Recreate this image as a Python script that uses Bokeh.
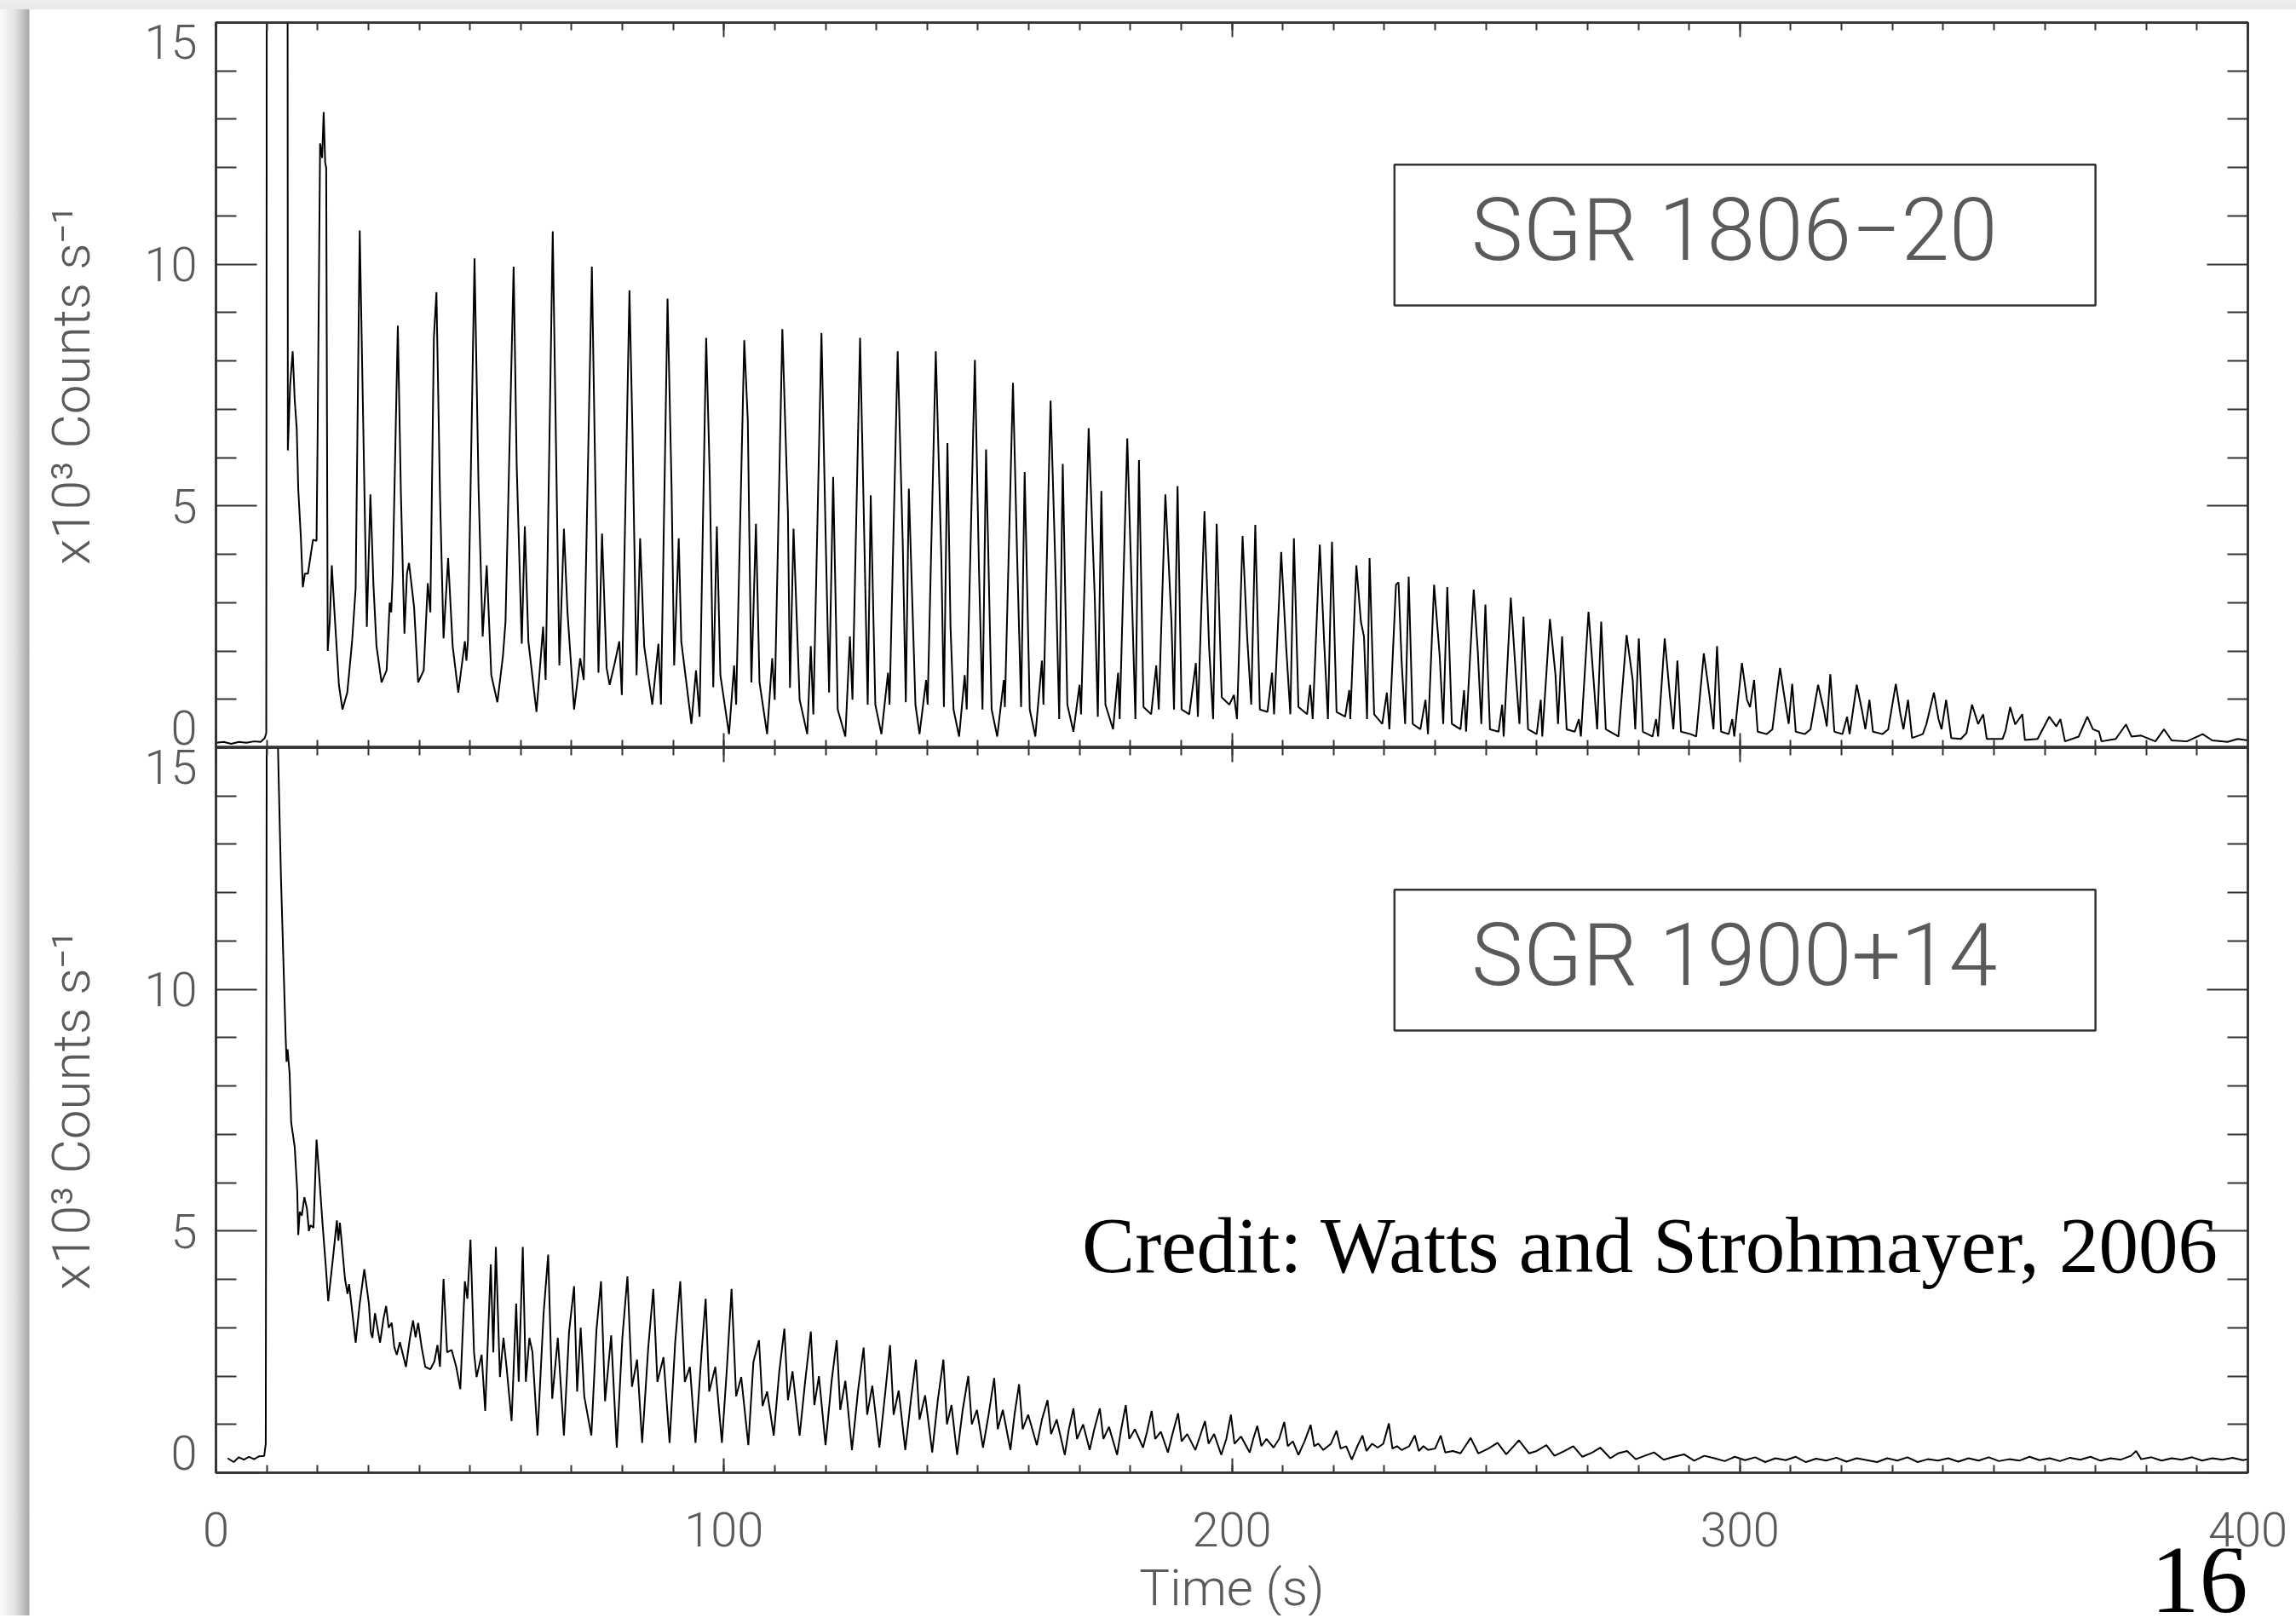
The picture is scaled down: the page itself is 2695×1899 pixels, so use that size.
from bokeh.plotting import figure
from bokeh.layouts import column
from bokeh.models import Range1d, LinearAxis, SingleIntervalTicker, FixedTicker, BoxAnnotation, Label
from bokeh.embed import file_html
from bokeh.resources import INLINE

# ---------------- data ----------------
panel_names = ["SGR  1806\u221220", "SGR  1900+14"]
y_major = [0, 5, 10, 15]
y_minor = [1, 2, 3, 4, 6, 7, 8, 9, 11, 12, 13, 14]
# tick-label anchors: end labels sit just inside the panel, as in the original
y_label_pos = [0.42, 5, 10, 14.6]
y_label_txt = ["0", "5", "10", "15"]

# SGR 1806-20 light curve (time s, x10^3 counts/s); 16 = off scale
t_1806 = [
    0.0, 1.5, 3.0, 4.5, 6.0, 7.5, 8.8, 9.6, 9.9, 10.0,
    14.1, 14.15, 14.6, 15.1, 15.5, 15.9, 16.2, 16.7, 17.1, 17.5,
    18.1, 19.1, 19.8, 20.0, 20.5, 20.9, 21.2, 21.5, 21.7, 22.0,
    22.4, 22.8, 23.3, 24.2, 24.9, 25.85, 26.8, 27.5, 28.3, 29.1,
    29.7, 30.4, 31.0, 31.6, 32.6, 33.6, 34.2, 34.5, 34.8, 35.8,
    36.4, 37.1, 37.6, 38.0, 39.0, 39.8, 40.9, 41.7, 42.2, 42.9,
    43.4, 44.1, 44.8, 45.7, 46.6, 47.7, 49.0, 49.3, 49.6, 50.9,
    51.7, 52.5, 53.3, 54.2, 55.4, 56.5, 57.0, 58.6, 59.2, 60.2,
    60.8, 61.5, 63.1, 64.4, 64.9, 66.3, 67.6, 68.5, 69.2, 70.5,
    71.7, 72.4, 74.0, 75.3, 76.0, 76.9, 77.5, 78.5, 79.4, 79.9,
    81.4, 82.0, 82.8, 83.5, 84.3, 85.9, 87.1, 87.6, 88.9, 89.7,
    90.2, 91.1, 91.6, 93.6, 94.5, 95.2, 96.5, 97.2, 97.9, 98.6,
    99.3, 101.0, 102.0, 102.4, 104.0, 104.7, 105.4, 106.3, 107.0, 108.5,
    109.5, 110.0, 111.5, 112.6, 113.0, 113.7, 114.9, 116.4, 117.1, 117.6,
    119.2, 120.1, 120.7, 121.5, 122.4, 123.9, 124.8, 125.3, 126.8, 127.6,
    128.3, 128.9, 129.8, 131.0, 132.3, 132.6, 134.2, 135.2, 135.8, 136.4,
    137.7, 138.5, 139.8, 140.1, 141.7, 142.8, 143.3, 144.0, 144.6, 145.2,
    146.3, 147.4, 147.8, 149.4, 150.2, 150.9, 151.6, 152.7, 153.8, 155.1,
    155.3, 156.9, 157.7, 158.5, 159.2, 160.2, 161.3, 162.6, 162.9, 164.3,
    165.4, 166.0, 166.7, 167.6, 168.8, 170.0, 170.3, 171.8, 173.0, 173.6,
    174.3, 175.1, 176.6, 177.6, 177.9, 179.4, 180.4, 181.0, 181.7, 182.6,
    184.1, 185.1, 185.6, 186.9, 188.1, 188.6, 189.3, 190.1, 191.6, 192.9,
    193.3, 194.6, 195.5, 196.3, 197.0, 198.0, 199.5, 200.4, 201.0, 202.1,
    203.0, 203.8, 204.6, 205.5, 207.0, 207.9, 208.3, 209.7, 210.7, 211.5,
    212.2, 213.1, 214.8, 215.4, 215.9, 217.3, 218.2, 218.9, 219.7, 220.6,
    222.3, 223.1, 223.3, 224.5, 225.4, 226.0, 226.6, 227.1, 228.0, 229.6,
    230.5, 231.0, 232.3, 232.8, 233.4, 234.1, 234.8, 235.6, 237.1, 238.1,
    238.6, 239.8, 240.9, 241.6, 242.4, 243.3, 245.0, 245.7, 246.1, 247.6,
    248.4, 249.1, 249.9, 250.8, 252.5, 253.2, 253.5, 254.9, 255.9, 256.6,
    257.4, 258.3, 260.0, 260.8, 261.1, 262.6, 263.7, 264.2, 265.0, 265.9,
    267.5, 268.3, 268.7, 270.2, 271.2, 271.9, 272.7, 273.6, 275.3, 276.1,
    277.7, 278.9, 279.4, 280.1, 280.9, 282.8, 283.5, 283.9, 285.2, 286.2,
    286.9, 287.7, 288.4, 290.3, 291.4, 292.9, 294.0, 294.8, 295.5, 296.3,
    297.8, 298.5, 298.9, 300.4, 301.4, 302.0, 302.8, 303.5, 305.3, 306.4,
    307.9, 309.0, 309.6, 310.3, 311.0, 312.8, 313.9, 315.4, 316.5, 317.1,
    317.8, 318.6, 320.2, 321.1, 321.6, 323.0, 324.0, 324.7, 325.5, 326.2,
    328.1, 329.2, 330.7, 331.6, 332.2, 333.1, 333.9, 336.0, 336.7, 338.2,
    339.1, 339.7, 340.6, 341.6, 343.5, 344.6, 345.7, 346.9, 347.9, 348.6,
    351.7, 352.3, 353.2, 354.2, 355.6, 356.1, 358.6, 360.9, 362.3, 363.1,
    364.0, 366.7, 368.4, 369.5, 370.7, 371.2, 374.0, 376.0, 377.1, 379.0,
    381.8, 383.5, 385.0, 388.0, 391.1, 393.0, 396.0, 398.0, 400.0,
]
c_1806 = [
    0.10, 0.12, 0.08, 0.12, 0.10, 0.13, 0.12, 0.20, 0.30, 16.0,
    16.0, 6.15, 7.5, 8.2, 7.2, 6.6, 5.34, 4.38, 3.32, 3.6,
    3.6, 4.3, 4.28, 6.35, 12.5, 12.2, 13.15, 12.1, 12.0, 2.0,
    2.6, 3.77, 2.86, 1.3, 0.79, 1.14, 2.2, 3.3, 10.7, 6.05,
    2.5, 5.24, 3.37, 2.1, 1.35, 1.6, 3.0, 2.8, 3.6, 8.73,
    5.29, 2.36, 3.6, 3.82, 2.91, 1.35, 1.6, 3.4, 2.8, 8.48,
    9.42, 5.24, 2.26, 3.92, 2.1, 1.14, 2.2, 1.8, 2.2, 10.12,
    5.34, 2.3, 3.77, 1.5, 0.94, 1.9, 2.61, 9.95, 5.85, 2.15,
    4.58, 2.2, 0.74, 2.5, 1.4, 10.68, 1.7, 4.53, 2.8, 0.79,
    1.85, 1.4, 9.95, 1.55, 4.43, 1.65, 1.3, 1.75, 2.2, 1.09,
    9.46, 6.5, 1.5, 4.33, 2.1, 0.89, 2.15, 0.89, 9.29, 5.34,
    1.7, 4.33, 2.2, 0.49, 1.6, 0.64, 8.48, 5.65, 1.25, 4.58,
    1.5, 0.28, 1.7, 0.89, 8.43, 6.76, 1.35, 4.63, 1.35, 0.28,
    1.85, 0.99, 8.66, 4.84, 1.24, 4.53, 0.99, 0.28, 2.1, 0.69,
    8.58, 4.0, 1.14, 5.6, 0.79, 0.23, 2.3, 0.99, 8.48, 4.48,
    0.89, 5.22, 0.89, 0.28, 1.55, 0.89, 8.2, 4.23, 0.94, 5.36,
    0.89, 0.28, 1.4, 0.89, 8.2, 3.92, 0.84, 6.3, 2.51, 0.79,
    0.23, 1.5, 0.79, 8.02, 3.72, 0.79, 6.17, 0.79, 0.23, 1.4,
    0.84, 7.55, 4.03, 0.84, 5.7, 0.79, 0.23, 1.8, 0.89, 7.18,
    3.2, 0.59, 5.87, 0.89, 0.33, 1.3, 0.69, 6.61, 3.1, 0.64,
    5.31, 0.89, 0.38, 1.55, 0.59, 6.4, 2.81, 0.59, 5.95, 0.84,
    0.69, 1.7, 0.79, 5.24, 2.61, 0.79, 5.41, 0.79, 0.69, 1.75,
    0.64, 4.89, 2.1, 0.59, 4.63, 1.04, 0.89, 1.09, 0.59, 4.38,
    2.3, 0.89, 4.61, 0.79, 0.74, 1.55, 0.69, 4.05, 2.05, 0.69,
    4.33, 0.84, 0.69, 1.3, 0.59, 4.2, 2.1, 0.59, 4.26, 0.74,
    0.64, 1.19, 0.59, 3.77, 2.6, 2.3, 0.59, 3.92, 0.69, 0.49,
    1.14, 0.38, 3.37, 3.42, 1.8, 0.49, 3.54, 0.49, 0.38, 0.99,
    0.28, 3.37, 1.9, 0.49, 3.32, 0.49, 0.38, 1.19, 0.33, 3.27,
    2.0, 0.49, 2.96, 0.38, 0.33, 0.89, 0.23, 3.1, 1.5, 0.49,
    2.71, 0.38, 0.28, 0.99, 0.23, 2.66, 1.5, 0.49, 2.3, 0.38,
    0.33, 0.59, 0.23, 2.81, 1.4, 0.38, 2.61, 0.38, 0.28, 0.23,
    2.33, 1.4, 0.38, 2.26, 0.33, 0.23, 0.59, 0.23, 2.26, 1.09,
    0.38, 1.8, 0.33, 0.28, 0.23, 1.95, 1.09, 0.38, 2.1, 0.33,
    0.28, 0.59, 0.23, 1.75, 0.99, 0.84, 1.4, 0.33, 0.28, 0.38,
    1.65, 0.89, 0.49, 1.32, 0.33, 0.28, 0.38, 1.3, 0.79, 0.44,
    1.52, 0.33, 0.28, 0.64, 0.28, 1.3, 0.79, 0.38, 0.99, 0.33,
    0.28, 0.38, 1.32, 0.69, 0.38, 0.99, 0.2, 0.28, 0.48, 1.14,
    0.59, 0.38, 0.99, 0.2, 0.18, 0.3, 0.89, 0.49, 0.69, 0.18,
    0.18, 0.35, 0.84, 0.48, 0.69, 0.16, 0.18, 0.64, 0.44, 0.59,
    0.13, 0.23, 0.64, 0.38, 0.33, 0.13, 0.18, 0.48, 0.23, 0.25,
    0.13, 0.38, 0.15, 0.13, 0.28, 0.15, 0.12, 0.18, 0.15,
]

# SGR 1900+14 light curve
t_1900 = [
    2.3, 3.5, 4.5, 5.5, 6.5, 7.5, 8.5, 9.5, 9.8, 10.0,
    12.0, 12.4, 12.8, 13.7, 13.9, 14.1, 14.5, 14.8, 15.5, 16.0,
    16.2, 16.5, 16.9, 17.4, 17.9, 18.3, 18.6, 19.2, 19.8, 20.3,
    21.0, 21.6, 22.1, 23.0, 23.8, 24.1, 24.4, 25.4, 25.9, 26.2,
    26.7, 27.5, 28.3, 29.2, 30.1, 30.5, 30.8, 31.3, 31.8, 32.3,
    33.0, 33.5, 34.0, 34.6, 35.1, 35.6, 36.2, 36.7, 37.4, 38.2,
    38.8, 39.3, 39.8, 40.5, 41.2, 42.2, 43.0, 43.6, 44.1, 44.8,
    45.5, 46.4, 47.3, 48.1, 49.0, 49.5, 50.1, 50.8, 51.3, 52.3,
    53.0, 54.1, 54.6, 55.1, 55.9, 56.6, 57.2, 58.2, 59.1, 59.6,
    60.4, 61.0, 61.7, 62.3, 63.3, 64.5, 65.4, 66.2, 67.3, 68.5,
    69.5, 70.5, 71.1, 71.8, 72.5, 73.9, 74.9, 75.8, 76.6, 77.8,
    78.9, 80.0, 81.0, 81.9, 82.9, 83.9, 85.1, 86.1, 86.9, 88.1,
    89.3, 90.4, 91.4, 92.3, 93.3, 94.4, 95.6, 96.4, 97.1, 98.3,
    99.6, 100.6, 101.5, 102.4, 103.4, 104.8, 105.8, 106.9, 107.6, 108.5,
    109.8, 110.9, 111.9, 112.6, 113.5, 114.9, 116.0, 117.1, 117.8, 118.7,
    120.0, 121.2, 122.2, 122.9, 123.9, 125.2, 126.4, 127.5, 128.2, 129.2,
    130.6, 131.7, 132.7, 133.4, 134.4, 135.7, 136.8, 137.8, 138.5, 139.6,
    141.0, 142.1, 143.2, 143.9, 144.8, 145.9, 147.0, 148.1, 148.8, 149.8,
    151.0, 152.1, 153.2, 153.9, 154.9, 156.4, 157.2, 158.1, 158.8, 159.9,
    161.6, 162.6, 163.7, 164.4, 165.5, 167.1, 167.9, 168.8, 169.5, 170.7,
    172.0, 172.9, 174.0, 174.7, 175.8, 177.4, 178.2, 179.1, 179.8, 180.9,
    182.5, 183.3, 184.2, 184.9, 186.0, 187.4, 188.3, 189.4, 190.1, 191.2,
    192.8, 193.7, 194.7, 195.4, 196.5, 197.9, 198.9, 199.8, 200.5, 201.8,
    203.5, 204.2, 205.0, 205.8, 206.8, 208.2, 209.3, 210.3, 211.0, 212.0,
    213.1, 214.3, 215.5, 216.2, 217.0, 218.0, 219.5, 220.6, 221.4, 222.5,
    223.6, 224.7, 225.7, 226.5, 227.6, 228.7, 229.8, 230.9, 231.6, 232.5,
    233.4, 234.9, 236.0, 236.8, 237.7, 238.6, 240.0, 241.1, 242.0, 243.5,
    245.0, 247.0, 248.5, 250.5, 252.3, 254.0, 256.5, 258.5, 260.0, 261.9,
    263.5, 265.5, 267.2, 269.0, 271.0, 272.5, 274.5, 276.0, 277.8, 279.5,
    281.5, 283.1, 285.0, 287.0, 289.0, 291.0, 293.0, 295.0, 297.0, 299.0,
    301.0, 303.0, 305.0, 307.0, 309.0, 311.0, 313.0, 315.0, 317.0, 319.0,
    321.0, 323.0, 325.0, 327.0, 329.0, 331.0, 333.0, 335.0, 337.0, 339.0,
    341.0, 343.0, 345.0, 347.0, 349.0, 351.0, 353.0, 355.0, 357.0, 359.0,
    361.0, 363.0, 365.0, 367.0, 369.0, 371.0, 373.0, 375.0, 377.0, 378.0,
    379.0, 381.0, 383.0, 385.0, 387.0, 389.0, 391.0, 393.0, 395.0, 397.0, 399.0, 400.0,
]
c_1900 = [
    0.30, 0.22, 0.32, 0.27, 0.33, 0.28, 0.34, 0.35, 0.60, 16.0,
    16.0, 14.1, 12.3, 9.07, 8.5, 8.76, 8.26, 7.25, 6.74, 5.83,
    4.92, 5.4, 5.32, 5.7, 5.47, 5.0, 5.12, 5.07, 6.89, 6.18,
    5.12, 4.3, 3.55, 4.41, 5.22, 4.8, 5.17, 4.01, 3.7, 3.9,
    3.45, 2.69, 3.5, 4.21, 3.5, 2.9, 2.79, 3.3, 2.99, 2.69,
    3.2, 3.45, 3.0, 3.1, 2.6, 2.44, 2.7, 2.49, 2.19, 2.8,
    3.15, 2.8, 3.1, 2.59, 2.19, 2.14, 2.3, 2.64, 2.19, 4.01,
    2.49, 2.54, 2.19, 1.73, 3.96, 3.6, 4.82, 2.49, 1.98, 2.44,
    1.28, 4.31, 2.49, 4.67, 1.98, 2.79, 2.19, 1.07, 3.5, 1.88,
    4.67, 1.88, 2.79, 2.5, 0.77, 3.3, 4.51, 1.53, 2.79, 0.77,
    2.9, 3.86, 1.68, 3.0, 1.58, 0.77, 2.95, 3.96, 1.48, 2.84,
    0.52, 2.79, 4.06, 1.78, 2.34, 0.62, 2.59, 3.8, 1.88, 2.39,
    0.62, 2.69, 3.96, 1.88, 2.19, 0.62, 2.49, 3.6, 1.68, 2.19,
    0.62, 2.19, 3.8, 1.58, 1.98, 0.57, 2.29, 2.74, 1.38, 1.68,
    0.77, 2.1, 2.98, 1.5, 2.1, 0.77, 1.9, 2.92, 1.4, 2.0,
    0.57, 1.9, 2.74, 1.3, 1.9, 0.47, 1.7, 2.59, 1.2, 1.8,
    0.52, 1.6, 2.64, 1.2, 1.7, 0.47, 1.5, 2.34, 1.1, 1.6,
    0.42, 1.5, 2.34, 1.0, 1.4, 0.37, 1.3, 2.0, 1.0, 1.3,
    0.52, 1.2, 1.96, 0.9, 1.3, 0.47, 1.2, 1.83, 0.9, 1.2,
    0.57, 1.1, 1.5, 0.8, 1.1, 0.37, 0.9, 1.33, 0.7, 1.0,
    0.47, 0.9, 1.33, 0.7, 0.95, 0.37, 0.9, 1.4, 0.7, 0.9,
    0.52, 0.85, 1.28, 0.7, 0.85, 0.42, 0.8, 1.23, 0.65, 0.8,
    0.47, 0.75, 1.07, 0.6, 0.8, 0.37, 0.7, 1.2, 0.6, 0.75,
    0.42, 0.7, 0.97, 0.55, 0.7, 0.52, 0.7, 1.05, 0.55, 0.65,
    0.37, 0.65, 0.99, 0.55, 0.6, 0.47, 0.6, 0.87, 0.5, 0.55,
    0.27, 0.55, 0.77, 0.45, 0.6, 0.52, 0.6, 1.02, 0.5, 0.55,
    0.47, 0.55, 0.77, 0.45, 0.55, 0.47, 0.5, 0.77, 0.42, 0.45,
    0.4, 0.72, 0.4, 0.5, 0.62, 0.38, 0.67, 0.4, 0.45, 0.57,
    0.35, 0.45, 0.55, 0.33, 0.42, 0.52, 0.3, 0.4, 0.45, 0.28,
    0.36, 0.42, 0.27, 0.33, 0.38, 0.25, 0.35, 0.3, 0.24, 0.33,
    0.26, 0.32, 0.22, 0.3, 0.26, 0.33, 0.22, 0.29, 0.25, 0.31,
    0.23, 0.3, 0.26, 0.22, 0.3, 0.25, 0.32, 0.22, 0.28, 0.25,
    0.3, 0.23, 0.3, 0.25, 0.32, 0.24, 0.28, 0.25, 0.33, 0.26,
    0.3, 0.24, 0.31, 0.27, 0.33, 0.25, 0.3, 0.27, 0.35, 0.45,
    0.28, 0.32, 0.25, 0.3, 0.27, 0.32, 0.25, 0.3, 0.27, 0.31, 0.26, 0.28,
]

# ---------------- layout constants ----------------
W = 2695
FW, FH = 2385, 851
LEFT, RIGHT = 253, 57
AX_COL = "#333333"
TXT_COL = "#5a5a5a"
THIN_FONT = "Roboto Light, Roboto"
SERIF = "Liberation Serif"


def tick_axis(ticker, major_in, minor_in):
    ax = LinearAxis(ticker=ticker)
    ax.major_tick_in = major_in
    ax.major_tick_out = 0
    ax.minor_tick_in = minor_in
    ax.minor_tick_out = 0
    ax.axis_line_color = AX_COL
    ax.axis_line_width = 2.5
    ax.major_tick_line_color = AX_COL
    ax.major_tick_line_width = 2
    ax.minor_tick_line_color = AX_COL
    ax.minor_tick_line_width = 2
    ax.major_label_text_font_size = "0px"
    ax.major_label_text_color = None
    ax.major_label_standoff = 0
    return ax


def make_panel(t, c, name, top_border, is_bottom):
    p = figure(frame_width=FW, frame_height=FH,
               x_range=Range1d(0, 400), y_range=Range1d(0, 15),
               x_axis_location=None, y_axis_location=None,
               output_backend="svg", toolbar_location=None,
               min_border_left=LEFT, min_border_right=RIGHT,
               min_border_top=top_border, min_border_bottom=0,
               background_fill_color="white", border_fill_alpha=0)
    p.grid.visible = False
    p.outline_line_color = AX_COL
    p.outline_line_width = 2.5

    # tick marks (left/right/top/bottom)
    p.add_layout(tick_axis(FixedTicker(ticks=y_major, minor_ticks=y_minor), 48, 24), "left")
    p.add_layout(tick_axis(FixedTicker(ticks=y_major, minor_ticks=y_minor), 48, 24), "right")
    p.add_layout(tick_axis(SingleIntervalTicker(interval=100, num_minor_ticks=10), 17, 9), "above")

    # y tick labels + axis title
    lab = LinearAxis(ticker=FixedTicker(ticks=y_label_pos, minor_ticks=[]))
    lab.major_label_overrides = dict(zip(y_label_pos, y_label_txt))
    lab.axis_line_color = None
    lab.major_tick_line_color = None
    lab.minor_tick_line_color = None
    lab.major_tick_in = 0
    lab.major_tick_out = 0
    lab.minor_tick_in = 0
    lab.minor_tick_out = 0
    lab.major_label_standoff = 22
    lab.major_label_text_font = THIN_FONT
    lab.major_label_text_font_size = "56px"
    lab.major_label_text_color = TXT_COL
    lab.axis_label = "x10\u00b3 Counts s\u207b\u00b9"
    lab.axis_label_text_font = THIN_FONT
    lab.axis_label_text_font_size = "62px"
    lab.axis_label_text_font_style = "normal"
    lab.axis_label_text_color = TXT_COL
    lab.axis_label_standoff = 46
    p.add_layout(lab, "left")

    bottom = tick_axis(SingleIntervalTicker(interval=100, num_minor_ticks=10), 17, 9)
    if is_bottom:
        bottom.major_label_text_font = THIN_FONT
        bottom.major_label_text_font_size = "56px"
        bottom.major_label_text_color = TXT_COL
        bottom.major_label_standoff = 46
    p.add_layout(bottom, "below")

    p.line(t, c, line_color="black", line_width=2)

    box = BoxAnnotation(left=232, right=370, bottom=9.15, top=12.06,
                        fill_color=None, line_color=AX_COL, line_alpha=1.0,
                        line_width=2.5)
    p.add_layout(box)
    p.add_layout(Label(x=301, y=10.7, text=name, text_align="center",
                       text_baseline="middle", text_font=THIN_FONT,
                       text_font_size="102px", text_color=TXT_COL))
    return p


p_top = make_panel(t_1806, c_1806, panel_names[0], 26, False)
p_bot = make_panel(t_1900, c_1900, panel_names[1], 0, True)

p_bot.add_layout(Label(x=170.5, y=4.71, text="Credit: Watts and Strohmayer, 2006",
                       text_align="left", text_baseline="middle",
                       text_font=SERIF, text_font_size="93px",
                       text_color="black"))

# footer strip: x axis title and slide number; its frame lines up with the panels,
# so x is in seconds and y in pixels from the page bottom
FOOT_H = 79
p_foot = figure(width=W, height=FOOT_H, x_range=Range1d(0, 400), y_range=Range1d(0, FOOT_H),
                x_axis_location=None, y_axis_location=None,
                output_backend="svg", toolbar_location=None,
                min_border_left=LEFT, min_border_right=RIGHT,
                min_border_top=0, min_border_bottom=0,
                background_fill_alpha=0, border_fill_alpha=0, outline_line_color=None)
p_foot.grid.visible = False
p_foot.add_layout(Label(x=200, y=33, text="Time (s)", text_align="center",
                        text_baseline="middle", text_font=THIN_FONT,
                        text_font_size="60px", text_color=TXT_COL))
p_foot.add_layout(Label(x=400, y=42, text="16", text_align="right",
                        text_baseline="middle", text_font=SERIF,
                        text_font_size="114px", text_color="black"))

shadow_css = ("linear-gradient(to bottom, #eeeeee 0px, #e9e9e9 11px, transparent 11px), "
              "linear-gradient(to right, #fbfbfb 0px, #e2e2e2 18px, #a8a8a8 34px, "
              "transparent 35px), #ffffff")
layout = column(p_top, p_bot, p_foot, spacing=0, styles={"background": shadow_css})
open("out.html", "w").write(file_html(layout, INLINE))
